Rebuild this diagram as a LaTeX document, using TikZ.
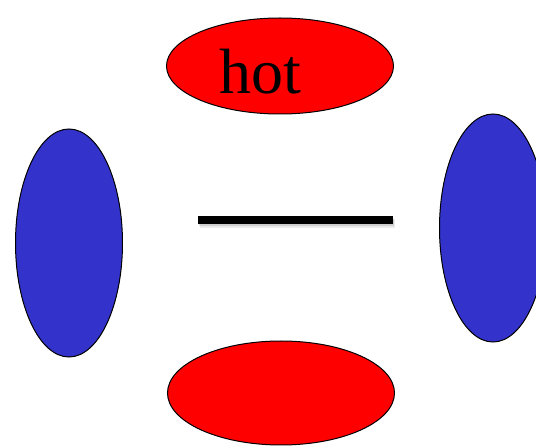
\documentclass[tikz,border=0pt]{standalone}
\usepackage{fontspec}
\setmainfont{Liberation Serif}
\usepackage{xcolor}
\usepackage{tikz}
\usetikzlibrary{positioning,shapes.geometric}

\definecolor{blobred}{RGB}{255,0,0}
\definecolor{blobblue}{RGB}{51,51,204}

\begin{document}
\begin{tikzpicture}[
  x=1pt, y=-1pt,
  blob/.style={ellipse, draw=black, line width=1pt, inner sep=0pt},
  hotblob/.style={blob, fill=blobred, minimum width=227pt, minimum height=96pt},
  coldblob/.style={blob, fill=blobblue, minimum width=107pt, minimum height=228pt},
  bar/.style={line width=7.5pt}
  ]
  \clip (0,0) rectangle (536,446);
  \fill[white] (0,0) rectangle (536,446);
  \node[hotblob] (top) at (280,66) {};
  \node[hotblob, minimum height=104pt] (bottom) at (281,393) {};
  \node[coldblob] (left) at (69,243) {};
  \node[coldblob] (right) at (493,228) {};
  \node[anchor=base west, inner sep=0pt, font=\fontsize{64}{64}\selectfont] (hot) at (219,94) {hot};
  % bar with a soft shadow
  \coordinate (barL) at (198,220);
  \coordinate (barR) at (393,220);
  \draw[line width=9pt, black, opacity=0.08] ([shift={(2,4)}]barL) -- ([shift={(2,4)}]barR);
  \draw[line width=7pt, black, opacity=0.12] ([shift={(1,3)}]barL) -- ([shift={(1,3)}]barR);
  \draw[bar] (barL) -- (barR);
\end{tikzpicture}
\end{document}
